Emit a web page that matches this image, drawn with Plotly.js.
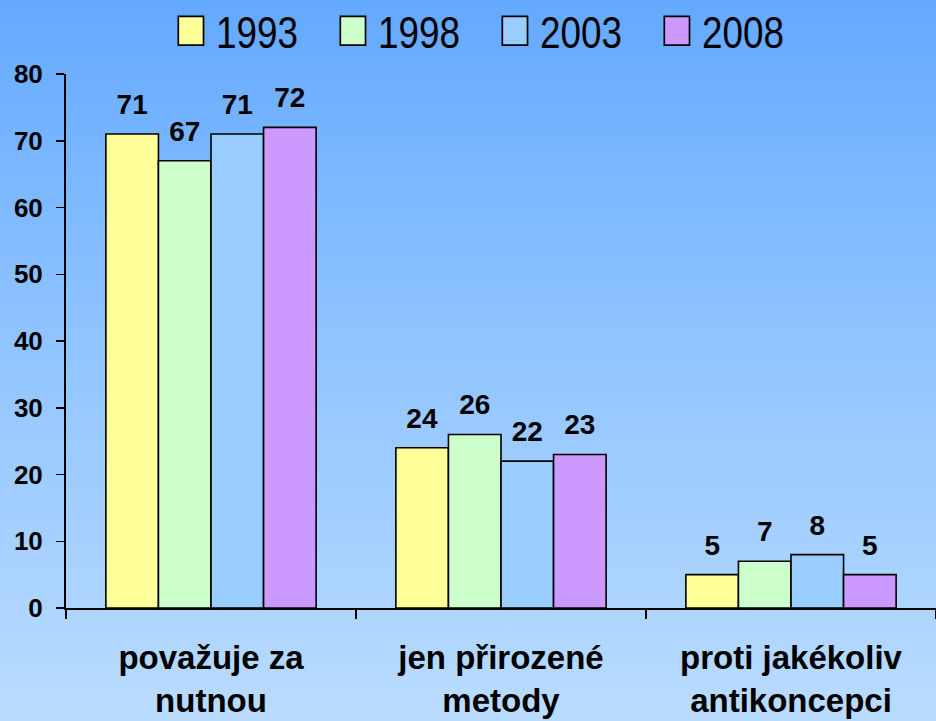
<!DOCTYPE html>
<html><head><meta charset="utf-8">
<script src="https://cdn.plot.ly/plotly-3.0.1.min.js"></script>
<style>
html,body{margin:0;padding:0;}
#chart{width:936px;height:721px;background:linear-gradient(to bottom,#64a9ff 0%,#8ec3ff 45%,#badcff 100%);}
</style></head>
<body><div id="chart"></div>
<script>
const categories = ["považuje za<br>nutnou", "jen přirozené<br>metody", "proti jakékoliv<br>antikoncepci"];
const years = ["1993", "1998", "2003", "2008"];
const v1993 = [71, 24, 5];
const v1998 = [67, 26, 7];
const v2003 = [71, 22, 8];
const v2008 = [72, 23, 5];
const colors = ["#ffff99", "#ccffcc", "#99ccff", "#cc99ff"];
const series = [v1993, v1998, v2003, v2008];

const traces = series.map((vals, i) => ({
  type: "bar",
  name: years[i],
  x: categories,
  y: vals,
  text: vals.map(String),
  textposition: "outside",
  textfont: {family: "Liberation Sans, Arial, sans-serif", size: 28, color: "#000", weight: "bold"},
  cliponaxis: false,
  marker: {color: colors[i], line: {color: "#000", width: 1.6}}
}));

const layout = {
  width: 936, height: 721,
  paper_bgcolor: "rgba(0,0,0,0)",
  plot_bgcolor: "rgba(0,0,0,0)",
  margin: {l: 66, r: 0, t: 74, b: 113},
  barmode: "group",
  bargap: 0.275,
  bargroupgap: 0,
  showlegend: true,
  legend: {orientation: "h", x: 0.493, xanchor: "center", yref: "container", y: 0.957, yanchor: "middle",
    font: {family: "Liberation Sans, Arial, sans-serif", size: 45, color: "#000"},
    entrywidth: 117, entrywidthmode: "pixels", itemwidth: 30, bgcolor: "rgba(0,0,0,0)"},
  xaxis: {
    type: "category",
    tickson: "boundaries",
    ticks: "outside", ticklen: 9, tickwidth: 1.5, tickcolor: "#000",
    ticklabelstandoff: 19,
    showline: true, linecolor: "#000", linewidth: 2,
    showgrid: false, zeroline: false,
    tickfont: {family: "Liberation Sans, Arial, sans-serif", size: 33, color: "#000", weight: "bold"},
    automargin: false
  },
  yaxis: {
    range: [0, 80], dtick: 10,
    ticks: "outside", ticklen: 8, tickwidth: 1.5, tickcolor: "#000",
    ticklabelstandoff: 8,
    showline: true, linecolor: "#000", linewidth: 2,
    showgrid: false, zeroline: false,
    tickfont: {family: "Liberation Sans, Arial, sans-serif", size: 26, color: "#000", weight: "bold"},
    automargin: false
  }
};
Plotly.newPlot("chart", traces, layout, {displayModeBar: false, staticPlot: true}).then(gd => {
  gd.querySelectorAll(".legendpoints path").forEach(p => {
    const tr = p.getAttribute("transform") || "";
    p.setAttribute("transform", tr + " scale(2.1,2.4)");
    p.style.strokeWidth = "0.8px";
  });
  gd.querySelectorAll(".legendtext").forEach(t => {
    t.setAttribute("x", String(45 / 0.82));
    t.setAttribute("transform", "scale(0.82,1)");
  });
  gd.querySelectorAll(".bars .bartext").forEach(t => {
    const tr = t.getAttribute("transform") || "";
    t.setAttribute("transform", "translate(0,-11) " + tr);
  });
});
</script></body></html>
